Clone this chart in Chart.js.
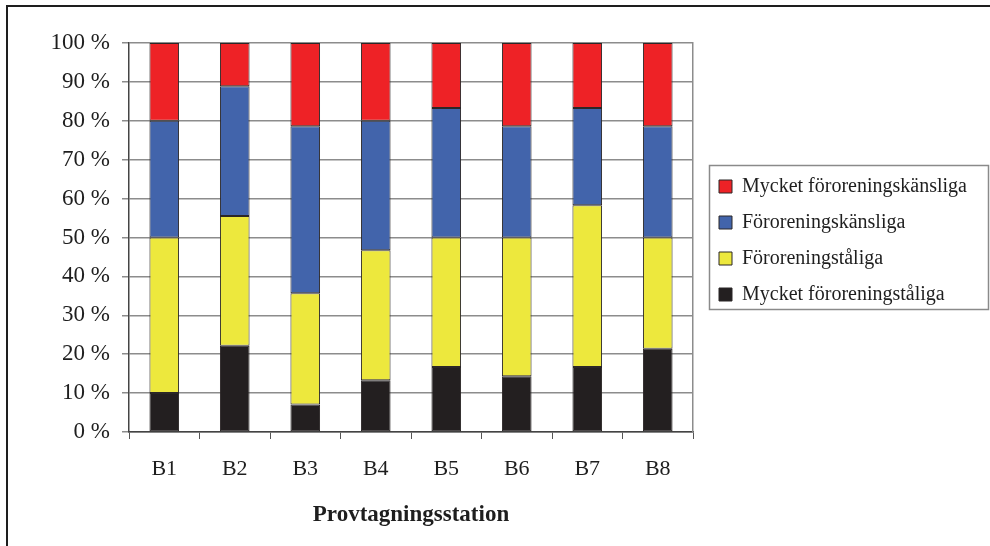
<!DOCTYPE html>
<html>
<head>
<meta charset="utf-8">
<script src="https://cdn.jsdelivr.net/npm/chart.js@4.4.1/dist/chart.umd.min.js"></script>
<style>
  body { margin: 0; background: #fff; }
  #wrap { position: relative; width: 990px; height: 546px; }
  #frame { position: absolute; left: 6px; top: 5px; right: -10px; bottom: -10px;
           border-top: 2px solid #1e1e1e; border-left: 2px solid #1e1e1e; pointer-events: none; }
</style>
</head>
<body>
<div id="wrap">
  <canvas id="chart" width="990" height="546"></canvas>
  <div id="frame"></div>
</div>
<script>
var stations = ['B1', 'B2', 'B3', 'B4', 'B5', 'B6', 'B7', 'B8'];
var tickValues = [0, 10, 20, 30, 40, 50, 60, 70, 80, 90, 100];

// percent of taxa per group, bottom to top
var mycketTaliga = [10, 22.2, 7.1, 13.3, 16.7, 14.3, 16.7, 21.4];
var taliga = [40, 33.3, 28.6, 33.4, 33.3, 35.7, 41.6, 28.6];
var kansliga = [30, 33.4, 42.9, 33.3, 33.3, 28.6, 25, 28.6];
var mycketKansliga = [20, 11.1, 21.4, 20, 16.7, 21.4, 16.7, 21.4];

var groupNames = ['Mycket föroreningskänsliga', 'Föroreningskänsliga', 'Föroreningståliga', 'Mycket föroreningståliga'];

var serif = '"Liberation Serif", "DejaVu Serif", serif';

// the legend sits in the right margin, outside the plot area
var placeLegend = {
  id: 'placeLegend',
  afterLayout: function(chart) {
    var lg = chart.legend;
    if (!lg) return;
    var w = lg.width;
    lg.left = chart.chartArea.right + 10;
    lg.right = lg.left + w;
    lg.top = chart.chartArea.top + 6;
    lg.bottom = chart.chartArea.bottom;
    lg.height = lg.bottom - lg.top;
  },
  afterDraw: function(chart) {
    var hb = chart.legend.legendHitBoxes;
    if (!hb || !hb.length) return;
    var ctx = chart.ctx;
    var top = Math.round(hb[0].top - 12);
    var last = hb[hb.length - 1];
    var bottom = Math.round(last.top + last.height + 4);
    var left = Math.round(hb[0].left - 10);
    ctx.save();
    ctx.strokeStyle = '#8a8a8a';
    ctx.lineWidth = 1.5;
    ctx.strokeRect(left + 0.5, top + 0.5, chart.width - 2 - left, bottom - top);
    ctx.restore();
  }
};

new Chart(document.getElementById('chart').getContext('2d'), {
  type: 'bar',
  data: {
    labels: stations,
    datasets: [
      { label: groupNames[3], data: mycketTaliga, backgroundColor: '#231f20' },
      { label: groupNames[2], data: taliga, backgroundColor: '#ede83d' },
      { label: groupNames[1], data: kansliga, backgroundColor: '#4264ab' },
      { label: groupNames[0], data: mycketKansliga, backgroundColor: '#ee2226' }
    ]
  },
  options: {
    responsive: false,
    animation: false,
    devicePixelRatio: 1,
    layout: { padding: { top: 43, left: 0, right: 297, bottom: 0 } },
    datasets: {
      bar: {
        borderColor: '#2b2727',
        borderWidth: 1,
        borderSkipped: false,
        categoryPercentage: 1,
        barPercentage: 0.42
      }
    },
    plugins: {
      tooltip: { enabled: false },
      legend: {
        position: 'chartArea',
        reverse: true,
        labels: {
          boxWidth: 13,
          boxHeight: 13,
          padding: 16,
          color: '#1e1e1e',
          font: { family: serif, size: 20 }
        }
      }
    },
    scales: {
      x: {
        stacked: true,
        grid: { drawOnChartArea: false, tickLength: 7, color: '#555' },
        border: { color: '#444', width: 1.5 },
        ticks: { padding: 17, color: '#1e1e1e', font: { family: serif, size: 22 } },
        title: {
          display: true,
          text: 'Provtagningsstation',
          color: '#1e1e1e',
          padding: { top: 0, bottom: 17 },
          font: { family: serif, size: 23, weight: 'bold' }
        },
        afterFit: function(scale) { scale.height = 114; }
      },
      y: {
        stacked: true,
        min: 0,
        max: 100,
        afterBuildTicks: function(scale) {
          scale.ticks = tickValues.map(function(v) { return { value: v }; });
        },
        grid: { tickLength: 7, color: '#8c8c8c', lineWidth: 1.5 },
        border: { color: '#444', width: 1.5 },
        ticks: {
          padding: 12,
          color: '#1e1e1e',
          font: { family: serif, size: 23 },
          callback: function(v) { return v + ' %'; }
        },
        afterFit: function(scale) { scale.width = 129; }
      },
      yRight: {
        position: 'right',
        min: 0,
        max: 100,
        grid: { display: false },
        border: { color: '#8c8c8c', width: 1.5 },
        ticks: { display: false },
        afterFit: function(scale) { scale.width = 0; }
      }
    }
  },
  plugins: [placeLegend]
});
</script>
</body>
</html>
